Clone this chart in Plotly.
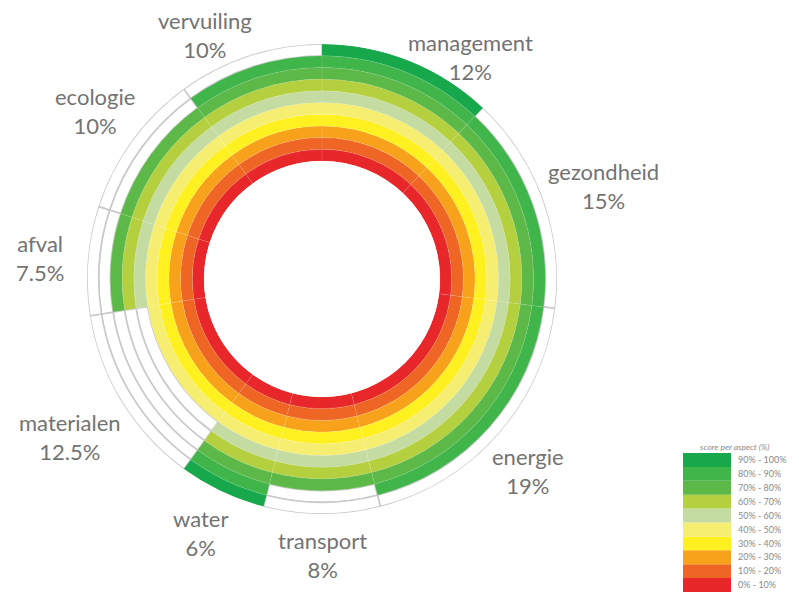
import plotly.graph_objects as go

# ---- data ----
aspects = ["management", "gezondheid", "energie", "transport", "water",
           "materialen", "afval", "ecologie", "vervuiling"]
weights = [12, 15, 19, 8, 6, 12.5, 7.5, 10, 10]          # % of circle
weight_labels = ["12%", "15%", "19%", "8%", "6%", "12.5%", "7.5%", "10%", "10%"]
scores = [10, 9, 9, 8, 10, 5, 8, 8, 9]                     # filled rings (of 10)
band_labels = ["0% - 10%", "10% - 20%", "20% - 30%", "30% - 40%", "40% - 50%",
               "50% - 60%", "60% - 70%", "70% - 80%", "80% - 90%", "90% - 100%"]
band_colors = ["#e8272a", "#ee6524", "#f8a21c", "#fff020", "#f6ee70",
               "#c4dca2", "#b5d03f", "#5db947", "#3fb54a", "#18a84c"]

# label placement (paper px of reference), style only
label_pos = {
    "management": (471, 57), "gezondheid": (603, 186), "energie": (528, 471),
    "transport": (322, 555), "water": (200, 533), "materialen": (70, 437),
    "afval": (40, 258), "ecologie": (95, 111), "vervuiling": (205, 35),
}

W, H = 799, 595
cx, cy, R = 322, 279, 235
hole = 118 / 235

# build cell arrays
thetas, widths = [], []
acc = 0
for w in weights:
    thetas.append((acc + w / 2) * 3.6)
    widths.append(w * 3.6)
    acc += w

emp = dict(theta=[], width=[], base=[], r=[])
fil = dict(theta=[], width=[], base=[], r=[], color=[])
for i, s in enumerate(scores):
    for k in range(10):
        if k < s:
            fil["theta"].append(thetas[i]); fil["width"].append(widths[i])
            fil["base"].append(k); fil["r"].append(1); fil["color"].append(band_colors[k])
        else:
            emp["theta"].append(thetas[i]); emp["width"].append(widths[i])
            emp["base"].append(k); emp["r"].append(1)

fig = go.Figure()
fig.add_trace(go.Barpolar(
    theta=emp["theta"], width=emp["width"], base=emp["base"], r=emp["r"],
    marker=dict(color="white", line=dict(color="#c9c9cd", width=1.6)),
    hoverinfo="skip", showlegend=False))
fig.add_trace(go.Barpolar(
    theta=fil["theta"], width=fil["width"], base=fil["base"], r=fil["r"],
    marker=dict(color=fil["color"], line=dict(color="rgba(255,255,255,0.18)", width=0.5)),
    hoverinfo="skip", showlegend=False))

# legend as a stacked bar
fig.add_trace(go.Bar(
    x=[0] * 10, y=[1] * 10, base=list(range(10)), width=1,
    marker=dict(color=band_colors, line=dict(width=0)),
    xaxis="x", yaxis="y", hoverinfo="skip", showlegend=False))

fig.update_layout(
    width=W, height=H, margin=dict(l=0, r=0, t=0, b=0),
    paper_bgcolor="white", plot_bgcolor="white",
    font=dict(family="Lato, Open Sans, sans-serif", color="#707070"),
    barmode="overlay",
    polar=dict(
        domain=dict(x=[(cx - R) / W, (cx + R) / W], y=[(H - cy - R) / H, (H - cy + R) / H]),
        hole=hole, bgcolor="white", bargap=0,
        radialaxis=dict(range=[0, 10], visible=False),
        angularaxis=dict(direction="clockwise", rotation=90, visible=False,
                         showgrid=False, showline=False, showticklabels=False),
    ),
    xaxis=dict(domain=[683 / W, 731 / W], range=[-0.5, 0.5], visible=False, fixedrange=True),
    yaxis=dict(domain=[3 / H, 142 / H], range=[0, 10], side="right",
               tickvals=[k + 0.5 for k in range(10)], ticktext=band_labels,
               tickfont=dict(size=9, color="#8a8a8a"), showgrid=False, zeroline=False,
               showline=False, ticks="", ticklabelstandoff=6, fixedrange=True),
)

for i, name in enumerate(aspects):
    x, y = label_pos[name]
    fig.add_annotation(x=x / W, y=1 - y / H, xref="paper", yref="paper",
                       text=f"{name}<br>{weight_labels[i]}", showarrow=False,
                       font=dict(size=22, color="#737373"), align="center",
                       xanchor="center", yanchor="middle")

fig.add_annotation(x=735 / W, y=1 - 447 / H, xref="paper", yref="paper",
                   text="<i>score per aspect (%)</i>", showarrow=False,
                   font=dict(size=8.5, color="#8a8a8a"), xanchor="center", yanchor="middle")

fig.write_html("out.html")
